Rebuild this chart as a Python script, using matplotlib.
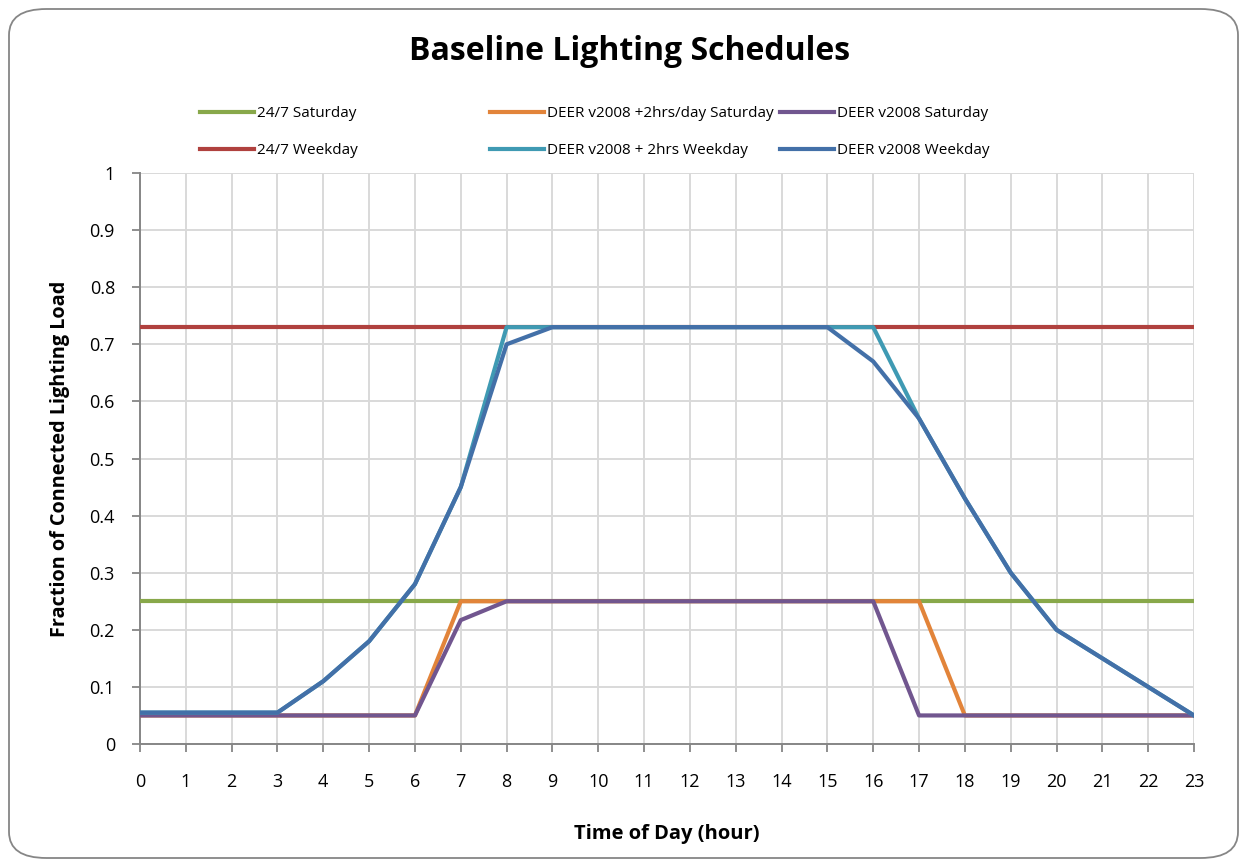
import matplotlib
matplotlib.use("Agg")
import matplotlib.pyplot as plt
from matplotlib.patches import FancyBboxPatch

hours = list(range(24))
sat_247 = [0.25] * 24
wkd_247 = [0.73] * 24
deer_sat_2h = [0.05, 0.05, 0.05, 0.05, 0.05, 0.05, 0.05, 0.25, 0.25, 0.25, 0.25, 0.25,
               0.25, 0.25, 0.25, 0.25, 0.25, 0.25, 0.05, 0.05, 0.05, 0.05, 0.05, 0.05]
deer_sat = [0.05, 0.05, 0.05, 0.05, 0.05, 0.05, 0.05, 0.217, 0.25, 0.25, 0.25, 0.25,
            0.25, 0.25, 0.25, 0.25, 0.25, 0.05, 0.05, 0.05, 0.05, 0.05, 0.05, 0.05]
deer_wkd_2h = [0.055, 0.055, 0.055, 0.055, 0.11, 0.18, 0.28, 0.45, 0.73, 0.73, 0.73, 0.73,
               0.73, 0.73, 0.73, 0.73, 0.73, 0.57, 0.43, 0.30, 0.20, 0.15, 0.10, 0.05]
deer_wkd = [0.055, 0.055, 0.055, 0.055, 0.11, 0.18, 0.28, 0.45, 0.70, 0.73, 0.73, 0.73,
            0.73, 0.73, 0.73, 0.73, 0.67, 0.57, 0.43, 0.30, 0.20, 0.15, 0.10, 0.05]

FONT = ["Open Sans", "DejaVu Sans"]
plt.rcParams['font.family'] = FONT

fig = plt.figure(figsize=(12.47, 8.67), dpi=100)
fig.patch.set_facecolor("white")
border = FancyBboxPatch((9 / 1247, 9 / 867), 1229 / 1247, 849 / 867,
                        boxstyle="round,pad=0,rounding_size=0.03",
                        transform=fig.transFigure, facecolor="white",
                        edgecolor="#868686", linewidth=1.3, zorder=-10)
fig.patches.append(border)

ax = fig.add_axes([140 / 1247, 1 - 744 / 867, 1054 / 1247, 571 / 867])
lw = 3.0
l_sat247, = ax.plot(hours, sat_247, color="#88A84A", lw=lw, label="24/7 Saturday", zorder=3)
l_wkd247, = ax.plot(hours, wkd_247, color="#B0413E", lw=lw, label="24/7 Weekday", zorder=3)
l_sat2h, = ax.plot(hours, deer_sat_2h, color="#E2843A", lw=lw, label="DEER v2008 +2hrs/day Saturday", zorder=4)
l_sat, = ax.plot(hours, deer_sat, color="#71568F", lw=lw, label="DEER v2008 Saturday", zorder=5)
l_wkd2h, = ax.plot(hours, deer_wkd_2h, color="#3F9AB3", lw=lw, label="DEER v2008 + 2hrs Weekday", zorder=6)
l_wkd, = ax.plot(hours, deer_wkd, color="#4370A8", lw=lw, label="DEER v2008 Weekday", zorder=7)

ax.set_xlim(0, 23)
ax.set_ylim(0, 1)
ax.set_xticks(hours)
ax.set_yticks([i / 10 for i in range(11)])
ax.set_yticklabels(["0", "0.1", "0.2", "0.3", "0.4", "0.5", "0.6", "0.7", "0.8", "0.9", "1"])
ax.grid(True, color="#D9D9D9", lw=1.4, zorder=0)
ax.set_axisbelow(True)
for s in ["top", "right"]:
    ax.spines[s].set_visible(False)
for s in ["left", "bottom"]:
    ax.spines[s].set_color("#868686")
    ax.spines[s].set_linewidth(1.4)
ax.tick_params(axis="both", direction="out", length=6, width=1.3, color="#868686",
               labelsize=13, labelcolor="black")
ax.tick_params(axis="x", pad=15)
ax.tick_params(axis="y", pad=12)
ax.set_xlabel("Time of Day (hour)", fontsize=14.5, fontweight="bold", labelpad=24)
ax.set_ylabel("Fraction of Connected Lighting Load", fontsize=14.3, fontweight="bold", labelpad=14)

fig.text(630 / 1247, 1 - 51 / 867, "Baseline Lighting Schedules", fontsize=23,
         fontweight="bold", ha="center", va="center")

cols = [(200, [l_sat247, l_wkd247]), (490, [l_sat2h, l_wkd2h]), (780, [l_sat, l_wkd])]
for x, hs in cols:
    leg = fig.legend(handles=hs, loc="upper left",
                     bbox_to_anchor=(x / 1247, 1 - 106 / 867), frameon=False,
                     fontsize=11, handlelength=3.55, handletextpad=0.2,
                     labelspacing=1.46, borderaxespad=0, borderpad=0)

fig.savefig("out.png", dpi=100)
